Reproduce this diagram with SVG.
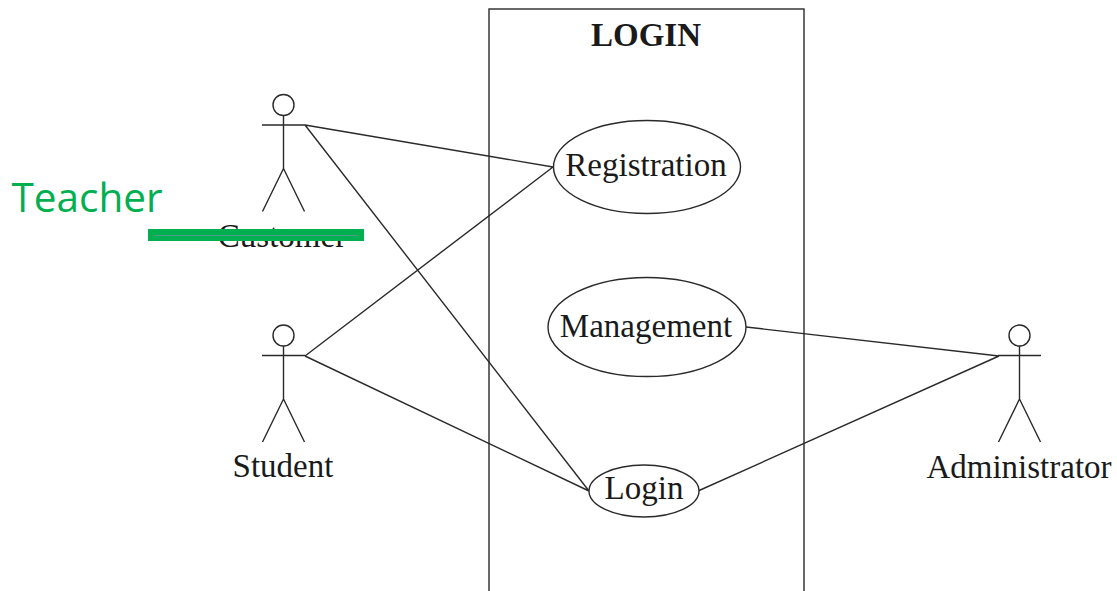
<svg xmlns="http://www.w3.org/2000/svg" width="1117" height="591" viewBox="0 0 1117 591">
<style>
.l{fill:none;stroke:#2a2a2a;stroke-width:1.4}
.e{fill:#fff;stroke:#2a2a2a;stroke-width:1.4}
.t{font-family:"Liberation Serif",serif;font-size:33px;fill:#1a1a1a;text-anchor:middle}
</style>
<defs><g id="actor"><circle cx="0" cy="-20" r="10.500" class="l"/><path class="l" d="M-21.500 0H21.500M0 -9.500V43.500M0 43.500L-21 86.500M0 43.500L21 86.500"/></g></defs>
<g id="system"><rect x="489" y="9" width="315" height="590" class="l"/><text x="646" y="46" class="t" font-size="33" font-weight="bold">LOGIN</text></g>
<g id="connectors">
<path class="l" d="M305 125L553 167M305 125L589 491M305 356L553 167M305 356L589 491M746 327L999 356M698 491L999 356"/>
</g>
<g id="customer"><use href="#actor" x="283.500" y="125"/><text x="282" y="247" class="t">Customer</text></g>
<g id="student"><use href="#actor" x="283.500" y="355.500"/><text x="283" y="477" class="t">Student</text></g>
<g id="administrator"><use href="#actor" x="1019.500" y="355.500"/><text x="1019" y="478" class="t">Administrator</text></g>
<g id="registration"><ellipse cx="647" cy="167" rx="93.500" ry="46.500" class="e"/><text x="646" y="176" class="t">Registration</text></g>
<g id="management"><ellipse cx="647" cy="327" rx="99" ry="49.500" class="e"/><text x="646" y="337" class="t">Management</text></g>
<g id="login"><ellipse cx="644" cy="491" rx="55" ry="26" class="e"/><text x="644" y="499" class="t">Login</text></g>
<g id="teacher"><rect x="148" y="229" width="216" height="12" fill="#00b050"/><path d="M154 235.500H358" stroke="#4a9a8a" stroke-width="1" fill="none"/><text x="87" y="212" font-family="'Open Sans','Noto Sans',sans-serif" font-size="40.500" fill="#00b050" text-anchor="middle">Teacher</text></g>
</svg>
